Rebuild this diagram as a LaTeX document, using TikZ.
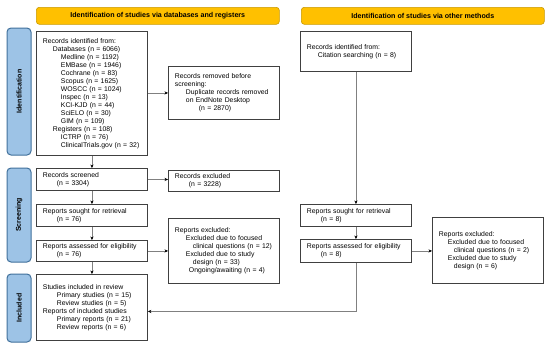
\documentclass[tikz,border=0pt]{standalone}
\usepackage{fontspec}
\setmainfont{Liberation Sans}
\usetikzlibrary{arrows.meta}
\definecolor{hdr}{HTML}{FFC000}
\definecolor{hdrb}{HTML}{C99A00}
\definecolor{side}{HTML}{9DC3E6}
\definecolor{sideb}{HTML}{41719C}
\definecolor{boxb}{HTML}{404040}
\definecolor{lin}{HTML}{808080}
\begin{document}
\begin{tikzpicture}[x=1pt,y=-1pt,
  box/.style={draw=boxb, line width=0.9pt, fill=white, anchor=north west,
    inner xsep=6.5pt, inner ysep=0pt, align=left, text width=98pt,
    minimum height=#1, font=\fontsize{6.85}{8}\selectfont},
  hdrbox/.style={draw=hdrb, fill=hdr, rounded corners=3pt, line width=0.6pt,
    anchor=north west, minimum width=243pt, minimum height=17pt, inner sep=0pt,
    font=\fontsize{7.1}{8}\selectfont\bfseries},
  sidebox/.style={draw=sideb, fill=side, rounded corners=4pt, line width=1pt,
    rotate=90, minimum width=#1, minimum height=24pt, inner sep=0pt,
    font=\fontsize{7}{8}\selectfont\bfseries},
  conn/.style={draw=lin, line width=0.6pt, -{Stealth[length=3.5pt,width=3.2pt,black]}},
  line/.style={draw=lin, line width=0.6pt}]
\useasboundingbox (0,0) rectangle (550,346);
\fill[white] (0,0) rectangle (550,346);

\node[hdrbox] (h1) at (36,7) {Identification of studies via databases and registers};
\node[hdrbox] (h2) at (301,7) {Identification of studies via other methods};

\node[sidebox=127pt] (s1) at (19,91.5) {Identification};
\node[sidebox=94pt] (s2) at (19,215) {Screening};
\node[sidebox=68pt] (s3) at (19,308) {Included};

\node[box=124pt] (id) at (36,31) {Records identified from:\\
\hspace*{10pt}Databases (n = 6066)\\
\hspace*{18pt}Medline (n = 1192)\\
\hspace*{18pt}EMBase (n = 1946)\\
\hspace*{18pt}Cochrane (n = 83)\\
\hspace*{18pt}Scopus (n = 1625)\\
\hspace*{18pt}WOSCC (n = 1024)\\
\hspace*{18pt}Inspec (n = 13)\\
\hspace*{18pt}KCI-KJD (n = 44)\\
\hspace*{18pt}SciELO (n = 30)\\
\hspace*{18pt}GIM (n = 109)\\
\hspace*{10pt}Registers (n = 108)\\
\hspace*{18pt}ICTRP (n = 76)\\
\hspace*{18pt}ClinicalTrials.gov (n = 32)};

\node[box=53pt] (rem) at (168,66) {Records removed before\\screening:\\
\hspace*{11pt}Duplicate records removed\\
\hspace*{11pt}on EndNote Desktop\\
\hspace*{24pt}(n = 2870)};

\node[box=22pt] (scr) at (36,168) {Records screened\\\hspace*{14pt}(n = 3304)};
\node[box=21pt] (exc) at (168,170) {Records excluded\\\hspace*{14pt}(n = 3228)};
\node[box=22pt] (sou) at (36,204) {Reports sought for retrieval\\\hspace*{14pt}(n = 76)};
\node[box=21pt] (ass) at (36,240) {Reports assessed for eligibility\\\hspace*{14pt}(n = 76)};
\node[box=65pt] (rex) at (168,218) {Reports excluded:\\
\hspace*{11pt}Excluded due to focused\\
\hspace*{18pt}clinical questions (n = 12)\\
\hspace*{11pt}Excluded due to study\\
\hspace*{18pt}design (n = 33)\\
\hspace*{14pt}Ongoing/awaiting (n = 4)};
\node[box=66pt] (inc) at (36,274) {Studies included in review\\
\hspace*{14pt}Primary studies (n = 15)\\
\hspace*{14pt}Review studies (n = 5)\\
Reports of included studies\\
\hspace*{14pt}Primary reports (n = 21)\\
\hspace*{14pt}Review reports (n = 6)};

\node[box=40pt] (oid) at (300,31) {Records identified from:\\\hspace*{11pt}Citation searching (n = 8)};
\node[box=22pt] (osou) at (300,204) {Reports sought for retrieval\\\hspace*{14pt}(n = 8)};
\node[box=23pt] (oass) at (300,239) {Reports assessed for eligibility\\\hspace*{14pt}(n = 8)};
\node[box=66pt] (orex) at (432,217) {Reports excluded:\\
\hspace*{9pt}Excluded due to focused\\
\hspace*{15pt}clinical questions (n = 2)\\
\hspace*{9pt}Excluded due to study\\
\hspace*{15pt}design (n = 6)};

\coordinate (incin) at ([yshift=-4pt]inc.east);

\draw[conn] (id.south) -- (scr.north);
\draw[conn] (id.east |- rem.west) -- (rem.west);
\draw[conn] (scr.east) -- (scr.east -| exc.west);
\draw[conn] (scr.south) -- (sou.north);
\draw[conn] (sou.south) -- (ass.north);
\draw[conn] (ass.east) -- (ass.east -| rex.west);
\draw[conn] (ass.south) -- (inc.north);
\draw[conn] (oid.south) -- (osou.north);
\draw[conn] (osou.south) -- (oass.north);
\draw[conn] (oass.east) -- (oass.east -| orex.west);
\draw[conn] (oass.south) -- (oass.south |- incin) -- (incin);
\end{tikzpicture}
\end{document}
